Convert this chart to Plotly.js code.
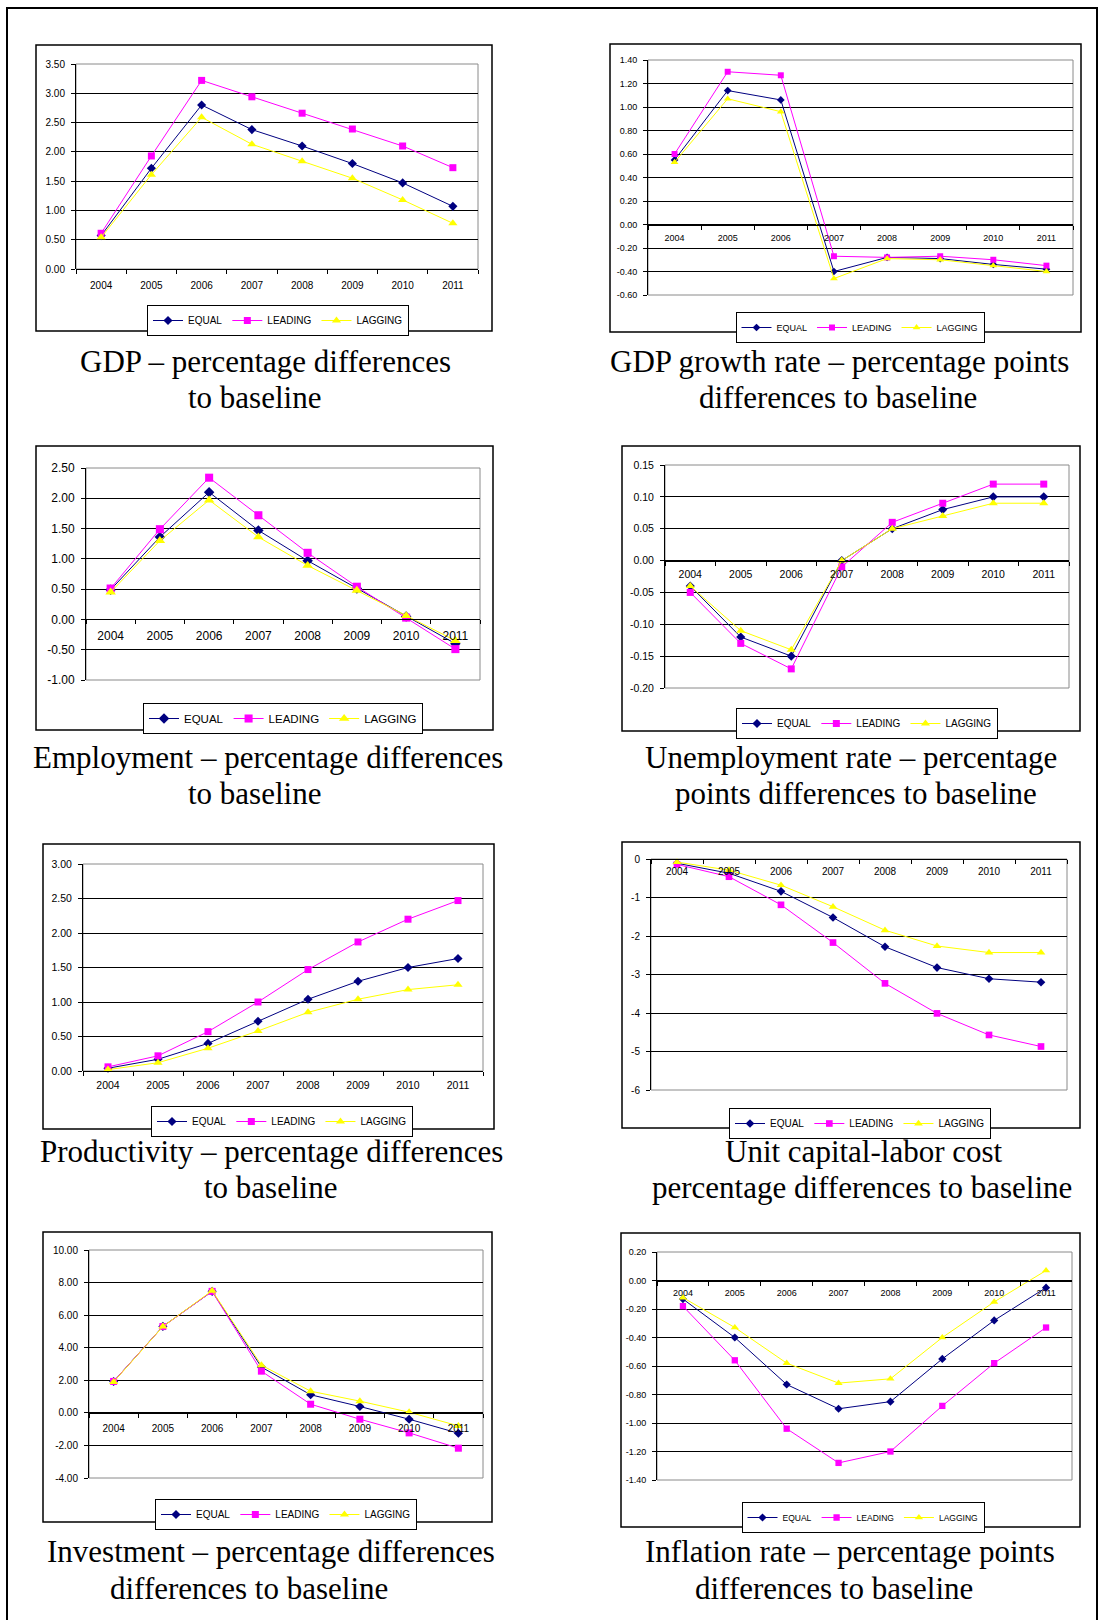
<!DOCTYPE html>
<html><head><meta charset="utf-8">
<script src="https://cdn.plot.ly/plotly-3.0.1.min.js"></script>
<style>html,body{margin:0;padding:0;background:#fff;}#chart{width:1099px;height:1620px;}</style>
</head><body><div id="chart"></div>
<script>
// ---------------- DATA ----------------
const years = ['2004','2005','2006','2007','2008','2009','2010','2011'];
const seriesNames = ['EQUAL','LEADING','LAGGING'];

const gdpEqual   = [0.57, 1.72, 2.80, 2.38, 2.10, 1.80, 1.47, 1.07];
const gdpLeading = [0.61, 1.93, 3.22, 2.94, 2.66, 2.39, 2.10, 1.73];
const gdpLagging = [0.54, 1.61, 2.59, 2.13, 1.84, 1.55, 1.18, 0.78];

const growthEqual   = [0.55, 1.14, 1.06, -0.40, -0.28, -0.29, -0.34, -0.38];
const growthLeading = [0.60, 1.30, 1.27, -0.27, -0.28, -0.27, -0.30, -0.35];
const growthLagging = [0.53, 1.07, 0.96, -0.46, -0.29, -0.30, -0.35, -0.40];

const empEqual   = [0.49, 1.36, 2.10, 1.47, 0.97, 0.51, 0.05, -0.40];
const empLeading = [0.51, 1.49, 2.34, 1.72, 1.10, 0.54, 0.03, -0.49];
const empLagging = [0.45, 1.30, 1.97, 1.36, 0.89, 0.48, 0.06, -0.35];

const unempEqual   = [-0.04, -0.12, -0.15, 0.00, 0.05, 0.08, 0.10, 0.10];
const unempLeading = [-0.05, -0.13, -0.17, -0.01, 0.06, 0.09, 0.12, 0.12];
const unempLagging = [-0.04, -0.11, -0.14, 0.00, 0.05, 0.07, 0.09, 0.09];

const prodEqual   = [0.04, 0.17, 0.40, 0.72, 1.04, 1.30, 1.50, 1.63];
const prodLeading = [0.06, 0.22, 0.57, 1.00, 1.47, 1.87, 2.20, 2.47];
const prodLagging = [0.02, 0.12, 0.33, 0.58, 0.85, 1.04, 1.18, 1.25];

const costEqual   = [-0.11, -0.37, -0.84, -1.52, -2.28, -2.82, -3.11, -3.20];
const costLeading = [-0.14, -0.46, -1.19, -2.17, -3.23, -4.01, -4.57, -4.87];
const costLagging = [-0.08, -0.29, -0.68, -1.24, -1.85, -2.26, -2.43, -2.43];

const invEqual   = [1.93, 5.31, 7.46, 2.81, 1.11, 0.39, -0.39, -1.25];
const invLeading = [1.93, 5.30, 7.46, 2.56, 0.53, -0.39, -1.23, -2.17];
const invLagging = [1.90, 5.30, 7.50, 2.93, 1.33, 0.72, 0.04, -0.80];

const inflEqual   = [-0.13, -0.40, -0.73, -0.90, -0.85, -0.55, -0.28, -0.05];
const inflLeading = [-0.18, -0.56, -1.04, -1.28, -1.20, -0.88, -0.58, -0.33];
const inflLagging = [-0.12, -0.33, -0.58, -0.72, -0.69, -0.40, -0.15, 0.07];

const captions = [
  ['GDP \u2013 percentage differences', 'to baseline'],
  ['GDP growth rate \u2013 percentage points', 'differences to baseline'],
  ['Employment \u2013 percentage differences', 'to baseline'],
  ['Unemployment rate \u2013 percentage', 'points differences to baseline'],
  ['Productivity \u2013 percentage differences', 'to baseline'],
  ['Unit capital-labor cost', 'percentage differences to baseline'],
  ['Investment \u2013 percentage differences', 'differences to baseline'],
  ['Inflation rate \u2013 percentage points', 'differences to baseline']
];

// ---------------- LAYOUT CONFIG (pixels) ----------------
const W = 1099, H = 1620;
const panels = [
  {data:[gdpEqual,gdpLeading,gdpLagging], plot:[76,64,478,269], range:[0,3.5], dtick:0.5, dec:2, tf:10, xs:7, border:[36,45,492,331], leg:[278,305], lf:10, ms:1.0, caps:[[265,372],[254.5,408]]},
  {data:[growthEqual,growthLeading,growthLagging], plot:[648,60,1073,295], range:[-0.6,1.4], dtick:0.2, dec:2, tf:9, xs:5, border:[610,44,1081,332], leg:[860,312], lf:9, ms:0.85, caps:[[839.5,372],[837.5,408]]},
  {data:[empEqual,empLeading,empLagging], plot:[86,468,480,680], range:[-1,2.5], dtick:0.5, dec:2, tf:12, xs:5, border:[36,446,493,730], leg:[283,703], lf:11.5, ms:1.15, caps:[[267.5,768],[254.5,804]]},
  {data:[unempEqual,unempLeading,unempLagging], plot:[665,465,1069,688], range:[-0.2,0.15], dtick:0.05, dec:2, tf:10.5, xs:4, border:[622,446,1080,731], leg:[867,708], lf:10, ms:1.0, caps:[[851,768],[856,804]]},
  {data:[prodEqual,prodLeading,prodLagging], plot:[83,864,483,1071], range:[0,3], dtick:0.5, dec:2, tf:10.5, xs:4, border:[43,844,494,1129], leg:[282,1106], lf:10, ms:1.0, caps:[[271.5,1162],[270,1198]]},
  {data:[costEqual,costLeading,costLagging], plot:[651,859,1067,1090], range:[-6,0], dtick:1, dec:0, tf:10, xs:3, border:[622,842,1080,1128], leg:[860,1108], lf:10, ms:0.95, caps:[[863.5,1162],[861.5,1198]]},
  {data:[invEqual,invLeading,invLagging], plot:[89,1250,483,1478], range:[-4,10], dtick:2, dec:2, tf:10, xs:6, border:[43,1232,492,1522], leg:[286,1499], lf:10, ms:1.0, caps:[[270.5,1562],[248.5,1599]]},
  {data:[inflEqual,inflLeading,inflLagging], plot:[657,1252,1072,1480], range:[-1.4,0.2], dtick:0.2, dec:2, tf:9, xs:4, border:[621,1233,1080,1527], leg:[863,1502], lf:8.5, ms:0.9, caps:[[850,1562],[834,1599]]}
];

const colors = ['#000080','#FF00FF','#FFFF00'];
const symbols = ['diamond','square','triangle-up'];
const baseSizes = [7,7,8];
const SANS = 'Liberation Sans, Arial, sans-serif';
const SERIF = 'Liberation Serif, Times New Roman, serif';
const CAPSIZE = 31;

const px = x => x / W;
const py = y => 1 - y / H;

const traces = [];
const layout = {
  width: W, height: H,
  margin: {l:0, r:0, t:0, b:0},
  paper_bgcolor: '#fff', plot_bgcolor: 'rgba(0,0,0,0)',
  showlegend: true,
  shapes: [], annotations: []
};

// outer frame
layout.shapes.push({type:'rect', xref:'paper', yref:'paper', x0:px(7), x1:px(1097), y0:py(1640), y1:py(8), line:{color:'#000', width:2}, fillcolor:'rgba(0,0,0,0)', layer:'above'});

panels.forEach((p, i) => {
  const n = i + 1;
  const sfx = n === 1 ? '' : String(n);
  const xa = 'xaxis' + sfx, ya = 'yaxis' + sfx;
  const xr = 'x' + sfx, yr = 'y' + sfx;
  const lg = 'legend' + sfx;
  const [l, t, r, b] = p.plot;
  const [rmin, rmax] = p.range;
  const zeroPx = t + (rmax - 0) / (rmax - rmin) * (b - t);

  const tickvals = [];
  const steps = Math.round((rmax - rmin) / p.dtick);
  for (let k = 0; k <= steps; k++) tickvals.push(+(rmin + k * p.dtick).toFixed(4));
  const ticktext = tickvals.map(v => v.toFixed(p.dec));

  layout[xa] = {
    domain: [px(l), px(r)], anchor: 'free', position: py(zeroPx),
    type: 'category', range: [-0.5, 7.5], fixedrange: true,
    showline: true, linecolor: '#000', linewidth: 1,
    ticks: 'outside', ticklen: 4, tickcolor: '#000', tickwidth: 1,
    tickson: 'boundaries', showgrid: false, zeroline: false,
    tickfont: {family: SANS, size: p.tf, color: '#000'},
    ticklabelstandoff: p.xs
  };
  layout[ya] = {
    domain: [py(b), py(t)], anchor: xr, range: [rmin, rmax], fixedrange: true,
    showline: true, linecolor: '#000', linewidth: 1,
    ticks: 'outside', ticklen: 4, tickcolor: '#000', tickwidth: 1,
    tickvals: tickvals, ticktext: ticktext,
    showgrid: true, gridcolor: '#000', gridwidth: 1, zeroline: false,
    tickfont: {family: SANS, size: p.tf, color: '#000'},
    ticklabelstandoff: 4
  };

  // plot-area gray border
  layout.shapes.push({type:'rect', xref:'paper', yref:'paper', x0:px(l), x1:px(r), y0:py(b), y1:py(t), line:{color:'#8a8a8a', width:1}, fillcolor:'rgba(0,0,0,0)', layer:'below'});
  // chart border
  const [bl, bt, br, bb] = p.border;
  layout.shapes.push({type:'rect', xref:'paper', yref:'paper', x0:px(bl), x1:px(br), y0:py(bb), y1:py(bt), line:{color:'#000', width:1.5}, fillcolor:'rgba(0,0,0,0)', layer:'above'});

  // legend
  layout[lg] = {
    orientation: 'h', xref: 'paper', yref: 'paper',
    x: px(p.leg[0]), xanchor: 'center', y: py(p.leg[1]), yanchor: 'top',
    bgcolor: '#fff', bordercolor: '#000', borderwidth: 1,
    font: {family: SANS, size: p.lf, color: '#000'},
    itemwidth: 30, tracegroupgap: 0, traceorder: 'normal'
  };

  p.data.forEach((vals, s) => {
    traces.push({
      type: 'scatter', mode: 'lines+markers', name: seriesNames[s],
      x: years, y: vals, xaxis: xr, yaxis: yr, legend: lg, showlegend: true,
      line: {color: colors[s], width: 1},
      marker: {symbol: symbols[s], color: colors[s], size: baseSizes[s] * p.ms, line: {width: 0}},
      hoverinfo: 'skip', cliponaxis: false
    });
  });

  // captions
  p.caps.forEach((c, k) => {
    layout.annotations.push({
      xref: 'paper', yref: 'paper', x: px(c[0]), y: py(c[1] - 0.34 * CAPSIZE),
      xanchor: 'center', yanchor: 'middle', showarrow: false,
      text: captions[i][k], font: {family: SERIF, size: CAPSIZE, color: '#000'}
    });
  });
});

Plotly.newPlot('chart', traces, layout, {staticPlot: true, displayModeBar: false});
</script></body></html>
